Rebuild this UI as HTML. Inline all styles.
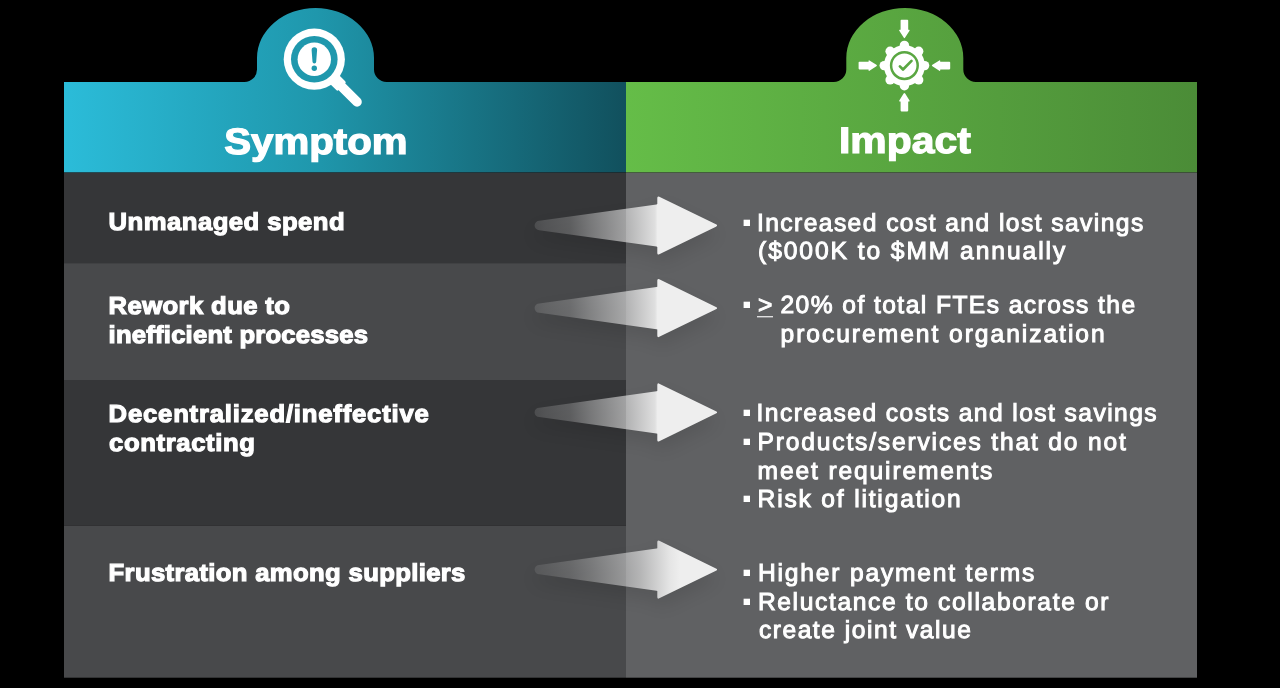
<!DOCTYPE html>
<html><head><meta charset="utf-8"><title>Symptom / Impact</title>
<style>
html,body{margin:0;padding:0;background:#000;width:1280px;height:688px;overflow:hidden;}
svg{display:block;will-change:transform;}
text{font-family:"Liberation Sans",sans-serif;font-weight:bold;fill:#fff;text-rendering:geometricPrecision;}
.lt{stroke:#fff;stroke-width:1.15px;}
.rt{stroke:#fff;stroke-width:1.0px;font-weight:normal;}
.ht{stroke:#fff;stroke-width:1.2px;}
</style></head><body>
<svg width="1280" height="688" viewBox="0 0 1280 688">
<defs>
<linearGradient id="teal" gradientUnits="userSpaceOnUse" x1="64" y1="0" x2="626" y2="0">
<stop offset="0" stop-color="#2bbcd9"/><stop offset="0.45" stop-color="#1f97ac"/><stop offset="1" stop-color="#11505d"/>
</linearGradient>
<linearGradient id="green" gradientUnits="userSpaceOnUse" x1="626" y1="0" x2="1197" y2="0">
<stop offset="0" stop-color="#65bd48"/><stop offset="1" stop-color="#4b8c37"/>
</linearGradient>
<linearGradient id="arr" gradientUnits="userSpaceOnUse" x1="535" y1="0" x2="657.5" y2="0">
<stop offset="0" stop-color="#eeeeee" stop-opacity="0.13"/><stop offset="0.082" stop-color="#eeeeee" stop-opacity="0.17"/><stop offset="0.287" stop-color="#eeeeee" stop-opacity="0.23"/><stop offset="0.451" stop-color="#eeeeee" stop-opacity="0.37"/><stop offset="0.738" stop-color="#eeeeee" stop-opacity="0.59"/><stop offset="0.98" stop-color="#eeeeee" stop-opacity="0.90"/><stop offset="1" stop-color="#eeeeee" stop-opacity="1"/>
</linearGradient>
<linearGradient id="arr4" gradientUnits="userSpaceOnUse" x1="535" y1="0" x2="680" y2="0">
<stop offset="0" stop-color="#eeeeee" stop-opacity="0.10"/><stop offset="0.241" stop-color="#eeeeee" stop-opacity="0.20"/><stop offset="0.379" stop-color="#eeeeee" stop-opacity="0.30"/><stop offset="0.621" stop-color="#eeeeee" stop-opacity="0.50"/><stop offset="0.724" stop-color="#eeeeee" stop-opacity="0.62"/><stop offset="0.834" stop-color="#eeeeee" stop-opacity="0.79"/><stop offset="0.931" stop-color="#eeeeee" stop-opacity="0.94"/><stop offset="1" stop-color="#eeeeee" stop-opacity="1"/>
</linearGradient>
<filter id="sh" x="-20%" y="-50%" width="140%" height="200%">
<feGaussianBlur stdDeviation="9"/>
</filter>
</defs>
<rect width="1280" height="688" fill="#000"/>

<path d="M64,82 L244.50,82 A12.5,12.5 0 0 0 257.00,69.50 L257.00,58 A58.5,50 0 0 1 374.00,58 L374.00,69.50 A12.5,12.5 0 0 0 386.50,82 L626,82 L626,172.6 L64,172.6 Z" fill="url(#teal)"/>
<path d="M626,82 L833.80,82 A12.5,12.5 0 0 0 846.30,69.50 L846.30,58 A58.5,50 0 0 1 963.30,58 L963.30,69.50 A12.5,12.5 0 0 0 975.80,82 L1197,82 L1197,172.6 L626,172.6 Z" fill="url(#green)"/>
<rect x="64" y="172.6" width="562" height="90.50000000000003" fill="#353638"/>
<rect x="64" y="263.1" width="562" height="116.89999999999998" fill="#48494b"/>
<rect x="64" y="380.0" width="562" height="145.5" fill="#353638"/>
<rect x="64" y="525.5" width="562" height="152.20000000000005" fill="#48494b"/>
<rect x="626" y="172.6" width="571" height="505.1" fill="#606163"/>
<path d="M539.30,220.80 L656.50,204.40 L657.30,204.10 L657.30,198.00 Q657.30,195.80 659.28,196.76 L715.96,224.36 Q718.30,225.50 715.96,226.64 L659.28,254.24 Q657.30,255.20 657.30,253.00 L657.30,246.90 L656.50,246.60 L539.30,230.20 A4.7,4.7 0 0 1 539.30,220.80 Z" transform="translate(0,9)" fill="#000" opacity="0.10" filter="url(#sh)"/>
<path d="M539.30,220.80 L656.50,204.40 L657.30,204.10 L657.30,198.00 Q657.30,195.80 659.28,196.76 L715.96,224.36 Q718.30,225.50 715.96,226.64 L659.28,254.24 Q657.30,255.20 657.30,253.00 L657.30,246.90 L656.50,246.60 L539.30,230.20 A4.7,4.7 0 0 1 539.30,220.80 Z" fill="url(#arr)"/>
<path d="M539.30,303.40 L656.50,287.00 L657.30,286.70 L657.30,280.60 Q657.30,278.40 659.28,279.36 L715.96,306.96 Q718.30,308.10 715.96,309.24 L659.28,336.84 Q657.30,337.80 657.30,335.60 L657.30,329.50 L656.50,329.20 L539.30,312.80 A4.7,4.7 0 0 1 539.30,303.40 Z" transform="translate(0,9)" fill="#000" opacity="0.10" filter="url(#sh)"/>
<path d="M539.30,303.40 L656.50,287.00 L657.30,286.70 L657.30,280.60 Q657.30,278.40 659.28,279.36 L715.96,306.96 Q718.30,308.10 715.96,309.24 L659.28,336.84 Q657.30,337.80 657.30,335.60 L657.30,329.50 L656.50,329.20 L539.30,312.80 A4.7,4.7 0 0 1 539.30,303.40 Z" fill="url(#arr)"/>
<path d="M539.30,407.70 L656.50,391.30 L657.30,391.00 L657.30,384.90 Q657.30,382.70 659.28,383.66 L715.96,411.26 Q718.30,412.40 715.96,413.54 L659.28,441.14 Q657.30,442.10 657.30,439.90 L657.30,433.80 L656.50,433.50 L539.30,417.10 A4.7,4.7 0 0 1 539.30,407.70 Z" transform="translate(0,9)" fill="#000" opacity="0.10" filter="url(#sh)"/>
<path d="M539.30,407.70 L656.50,391.30 L657.30,391.00 L657.30,384.90 Q657.30,382.70 659.28,383.66 L715.96,411.26 Q718.30,412.40 715.96,413.54 L659.28,441.14 Q657.30,442.10 657.30,439.90 L657.30,433.80 L656.50,433.50 L539.30,417.10 A4.7,4.7 0 0 1 539.30,407.70 Z" fill="url(#arr)"/>
<path d="M539.30,564.90 L656.50,548.50 L657.30,548.20 L657.30,542.10 Q657.30,539.90 659.28,540.86 L715.96,568.46 Q718.30,569.60 715.96,570.74 L659.28,598.34 Q657.30,599.30 657.30,597.10 L657.30,591.00 L656.50,590.70 L539.30,574.30 A4.7,4.7 0 0 1 539.30,564.90 Z" transform="translate(0,9)" fill="#000" opacity="0.10" filter="url(#sh)"/>
<path d="M539.30,564.90 L656.50,548.50 L657.30,548.20 L657.30,542.10 Q657.30,539.90 659.28,540.86 L715.96,568.46 Q718.30,569.60 715.96,570.74 L659.28,598.34 Q657.30,599.30 657.30,597.10 L657.30,591.00 L656.50,590.70 L539.30,574.30 A4.7,4.7 0 0 1 539.30,564.90 Z" fill="url(#arr4)"/>
<text id="L0" x="108.60" y="230" font-size="24.45" textLength="224.83" lengthAdjust="spacing" transform="matrix(1.05,0,0,1,-5.430,0)" class="lt">Unmanaged spend</text>
<text id="L1" x="108.60" y="314" font-size="24.45" textLength="172.71" lengthAdjust="spacing" transform="matrix(1.05,0,0,1,-5.430,0)" class="lt">Rework due to</text>
<text id="L2" x="108.60" y="343" font-size="24.45" textLength="247.08" lengthAdjust="spacing" transform="matrix(1.05,0,0,1,-5.430,0)" class="lt">inefficient processes</text>
<text id="L3" x="108.60" y="422" font-size="24.45" textLength="304.94" lengthAdjust="spacing" transform="matrix(1.05,0,0,1,-5.430,0)" class="lt">Decentralized/ineffective</text>
<text id="L4" x="109.10" y="451" font-size="24.45" textLength="138.85" lengthAdjust="spacing" transform="matrix(1.05,0,0,1,-5.455,0)" class="lt">contracting</text>
<text id="L5" x="108.60" y="581" font-size="24.45" textLength="339.78" lengthAdjust="spacing" transform="matrix(1.05,0,0,1,-5.430,0)" class="lt">Frustration among suppliers</text>
<rect x="743.6" y="219.7" width="6.4" height="6.3" fill="#fff"/>
<text id="R0" x="756.90" y="231" font-size="24.6" textLength="386.29" lengthAdjust="spacing" class="rt">Increased cost and lost savings</text>
<text id="R1" x="758.00" y="259" font-size="24.6" textLength="307.21" lengthAdjust="spacing" class="rt">($000K to $MM annually</text>
<rect x="743.6" y="301.7" width="6.4" height="6.3" fill="#fff"/>
<text class="rt" x="758" y="313" font-size="24.6">&gt;</text>
<rect x="757" y="316.0" width="16" height="1.4" fill="#fff" fill-opacity="0.8"/>
<text id="R2" x="780.50" y="313" font-size="24.6" textLength="354.59" lengthAdjust="spacing" class="rt">20% of total FTEs across the</text>
<text id="R3" x="780.50" y="342" font-size="24.6" textLength="324.17" lengthAdjust="spacing" class="rt">procurement organization</text>
<rect x="743.6" y="409.7" width="6.4" height="6.3" fill="#fff"/>
<text id="R4" x="756.60" y="421" font-size="24.6" textLength="399.97" lengthAdjust="spacing" class="rt">Increased costs and lost savings</text>
<rect x="743.6" y="438.7" width="6.4" height="6.3" fill="#fff"/>
<text id="R5" x="757.60" y="450" font-size="24.6" textLength="368.13" lengthAdjust="spacing" class="rt">Products/services that do not</text>
<text id="R6" x="757.60" y="479" font-size="24.6" textLength="234.78" lengthAdjust="spacing" class="rt">meet requirements</text>
<rect x="743.6" y="495.7" width="6.4" height="6.3" fill="#fff"/>
<text id="R7" x="757.60" y="507" font-size="24.6" textLength="203.16" lengthAdjust="spacing" class="rt">Risk of litigation</text>
<rect x="743.6" y="569.7" width="6.4" height="6.3" fill="#fff"/>
<text id="R8" x="757.90" y="581" font-size="24.6" textLength="276.45" lengthAdjust="spacing" class="rt">Higher payment terms</text>
<rect x="743.6" y="598.7" width="6.4" height="6.3" fill="#fff"/>
<text id="R9" x="757.90" y="610" font-size="24.6" textLength="350.58" lengthAdjust="spacing" class="rt">Reluctance to collaborate or</text>
<text id="R10" x="758.90" y="638" font-size="24.6" textLength="212.00" lengthAdjust="spacing" class="rt">create joint value</text>
<text id="H0" x="224.20" y="154" font-size="36.9" textLength="183.40" lengthAdjust="spacingAndGlyphs" class="ht">Symptom</text>
<text id="H1" x="839.00" y="153" font-size="36.9" textLength="131.76" lengthAdjust="spacingAndGlyphs" class="ht">Impact</text>
<g fill="#fff">
<circle cx="314.3" cy="59.2" r="30.6"/>
</g>
<circle cx="314.3" cy="59.2" r="23.3" fill="#1f98ad"/>
<circle cx="314.3" cy="59.3" r="16.7" fill="#fff"/>
<path d="M311.6,50 Q311.6,47.3 314.35,47.3 Q317.1,47.3 317.1,50 L316.2,61.8 Q316.1,63.5 314.35,63.5 Q312.6,63.5 312.5,61.8 Z" fill="#1f98ad"/>
<circle cx="314.3" cy="68.2" r="2.7" fill="#1f98ad"/>
<g transform="translate(314.3,59.2) rotate(45)" fill="#fff"><rect x="27" y="-6.3" width="12" height="12.6" rx="1.6"/><rect x="34" y="-4.75" width="31.2" height="9.5" rx="4.75"/></g>

<g fill="#fff"><circle cx="904.4" cy="65.6" r="20.5"/>
<circle cx="904.40" cy="45.40" r="4.7"/>
<circle cx="918.68" cy="51.32" r="4.7"/>
<circle cx="924.60" cy="65.60" r="4.7"/>
<circle cx="918.68" cy="79.88" r="4.7"/>
<circle cx="904.40" cy="85.80" r="4.7"/>
<circle cx="890.12" cy="79.88" r="4.7"/>
<circle cx="884.20" cy="65.60" r="4.7"/>
<circle cx="890.12" cy="51.32" r="4.7"/>
</g>
<circle cx="904.4" cy="65.6" r="13.3" fill="none" stroke="#5aa742" stroke-width="2.5"/>
<path d="M899.9,66.4 L903.0,69.5 L911.5,60.9" fill="none" stroke="#5aa742" stroke-width="2.7" stroke-linecap="round" stroke-linejoin="round"/>
<path d="M-3.80,-45.00 Q-3.80,-45.80 -3.00,-45.80 L3.00,-45.80 Q3.80,-45.80 3.80,-45.00 L3.80,-36.10 Q3.80,-35.80 4.10,-35.80 L4.65,-35.80 Q5.65,-35.80 5.12,-34.95 L0.74,-27.99 Q0.00,-26.80 -0.74,-27.99 L-5.12,-34.95 Q-5.65,-35.80 -4.65,-35.80 L-4.10,-35.80 Q-3.80,-35.80 -3.80,-36.10 Z" fill="#fff" transform="translate(904.4,65.6) rotate(0)"/>
<path d="M-3.80,-45.00 Q-3.80,-45.80 -3.00,-45.80 L3.00,-45.80 Q3.80,-45.80 3.80,-45.00 L3.80,-36.10 Q3.80,-35.80 4.10,-35.80 L4.65,-35.80 Q5.65,-35.80 5.12,-34.95 L0.74,-27.99 Q0.00,-26.80 -0.74,-27.99 L-5.12,-34.95 Q-5.65,-35.80 -4.65,-35.80 L-4.10,-35.80 Q-3.80,-35.80 -3.80,-36.10 Z" fill="#fff" transform="translate(904.4,65.6) rotate(90)"/>
<path d="M-3.80,-45.00 Q-3.80,-45.80 -3.00,-45.80 L3.00,-45.80 Q3.80,-45.80 3.80,-45.00 L3.80,-36.10 Q3.80,-35.80 4.10,-35.80 L4.65,-35.80 Q5.65,-35.80 5.12,-34.95 L0.74,-27.99 Q0.00,-26.80 -0.74,-27.99 L-5.12,-34.95 Q-5.65,-35.80 -4.65,-35.80 L-4.10,-35.80 Q-3.80,-35.80 -3.80,-36.10 Z" fill="#fff" transform="translate(904.4,65.6) rotate(180)"/>
<path d="M-3.80,-45.00 Q-3.80,-45.80 -3.00,-45.80 L3.00,-45.80 Q3.80,-45.80 3.80,-45.00 L3.80,-36.10 Q3.80,-35.80 4.10,-35.80 L4.65,-35.80 Q5.65,-35.80 5.12,-34.95 L0.74,-27.99 Q0.00,-26.80 -0.74,-27.99 L-5.12,-34.95 Q-5.65,-35.80 -4.65,-35.80 L-4.10,-35.80 Q-3.80,-35.80 -3.80,-36.10 Z" fill="#fff" transform="translate(904.4,65.6) rotate(270)"/>
</svg>
</body></html>
